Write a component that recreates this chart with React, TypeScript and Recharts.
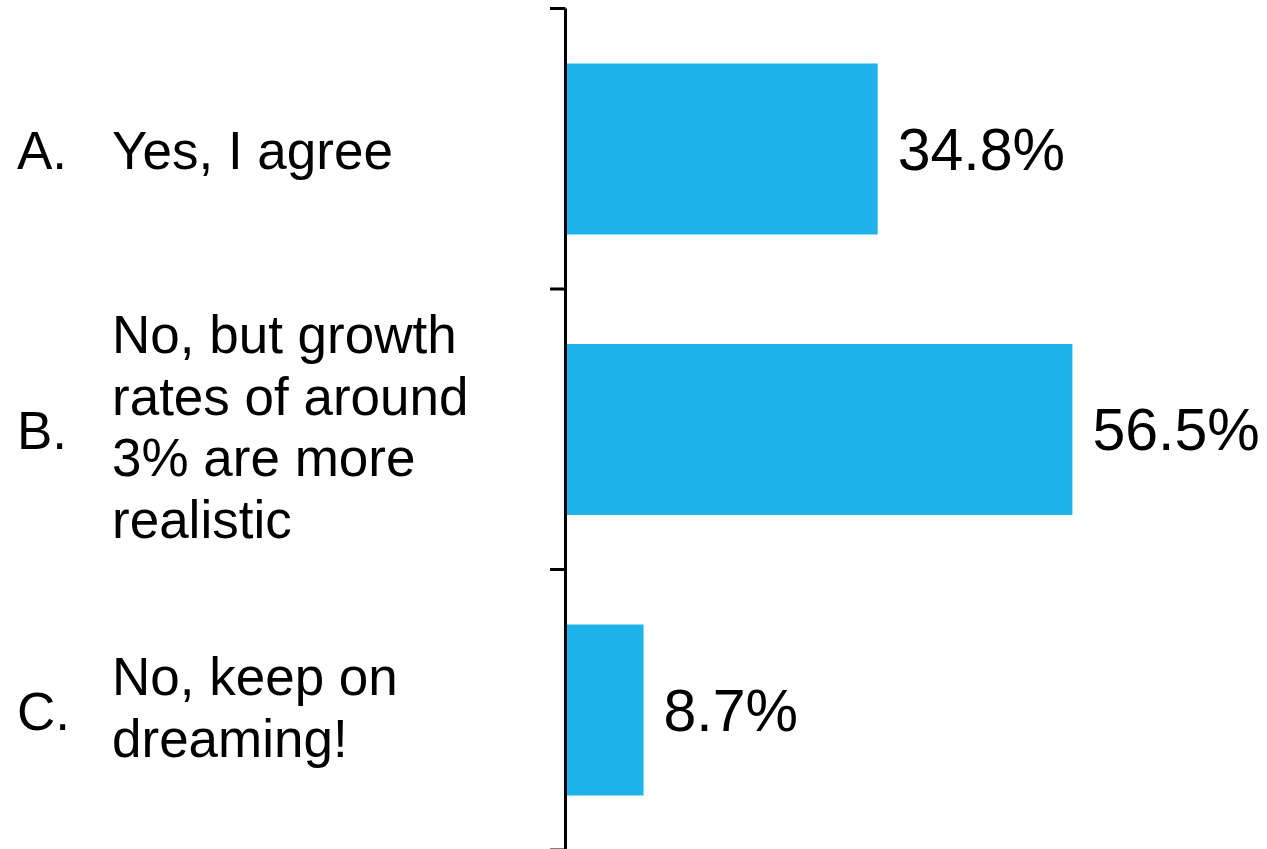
import { BarChart, Bar, XAxis, YAxis, LabelList } from 'recharts';

const letters = ['A.', 'B.', 'C.'];
const answerLines = [
  ['Yes, I agree'],
  ['No, but growth', 'rates of around', '3% are more', 'realistic'],
  ['No, keep on', 'dreaming!'],
];
const shares = [34.8, 56.5, 8.7];

const data = letters.map((letter, i) => ({
  key: letter,
  lines: answerLines[i],
  value: shares[i],
}));

const WIDTH = 1267;
const HEIGHT = 849;
// the bottom band runs slightly past the picture edge, as in the original
const MARGIN = { top: 8.5, right: 73.5, bottom: -1, left: 0 };
const AXIS_WIDTH = 565.5;
const BAND = (HEIGHT - MARGIN.top - MARGIN.bottom) / data.length;
const FONT = '"Liberation Sans", Arial, sans-serif';
const LABEL_SIZE = 53;
const LINE_GAP = 61.5;

const CategoryTick = (props: any) => {
  const { y, index } = props;
  const row = data[index];
  const n = row.lines.length;
  const top = y - BAND / 2;
  const bottom = y + BAND / 2;
  const mid = y + (n > 1 ? 16 : 20);
  return (
    <g>
      <line x1={550} x2={AXIS_WIDTH} y1={top} y2={top} stroke="#000" strokeWidth={3} />
      {index === data.length - 1 && (
        <line x1={550} x2={AXIS_WIDTH} y1={bottom} y2={bottom} stroke="#000" strokeWidth={3} />
      )}
      <text x={17} y={y + 20} fontSize={LABEL_SIZE} fontFamily={FONT} fill="#000">
        {row.key}
      </text>
      {row.lines.map((line: string, i: number) => (
        <text
          key={i}
          x={112}
          y={mid + (i - (n - 1) / 2) * LINE_GAP}
          fontSize={LABEL_SIZE}
          fontFamily={FONT}
          fill="#000"
        >
          {line}
        </text>
      ))}
    </g>
  );
};

export default function App() {
  return (
    <div style={{ position: 'absolute', left: 0, top: 0, background: '#fff' }}>
      <BarChart width={WIDTH} height={HEIGHT} data={data} layout="vertical" margin={MARGIN}>
        <XAxis type="number" domain={[0, 70]} hide />
        <YAxis
          type="category"
          dataKey="key"
          width={AXIS_WIDTH}
          axisLine={{ stroke: '#000', strokeWidth: 3 }}
          tickLine={false}
          tick={<CategoryTick />}
          interval={0}
        />
        <Bar dataKey="value" fill="#1EB3E9" barSize={171} isAnimationActive={false}>
          <LabelList
            dataKey="value"
            position="right"
            offset={20}
            formatter={(v: any) => `${v}%`}
            fontSize={59}
            fontFamily={FONT}
            fill="#000"
          />
        </Bar>
      </BarChart>
    </div>
  );
}
